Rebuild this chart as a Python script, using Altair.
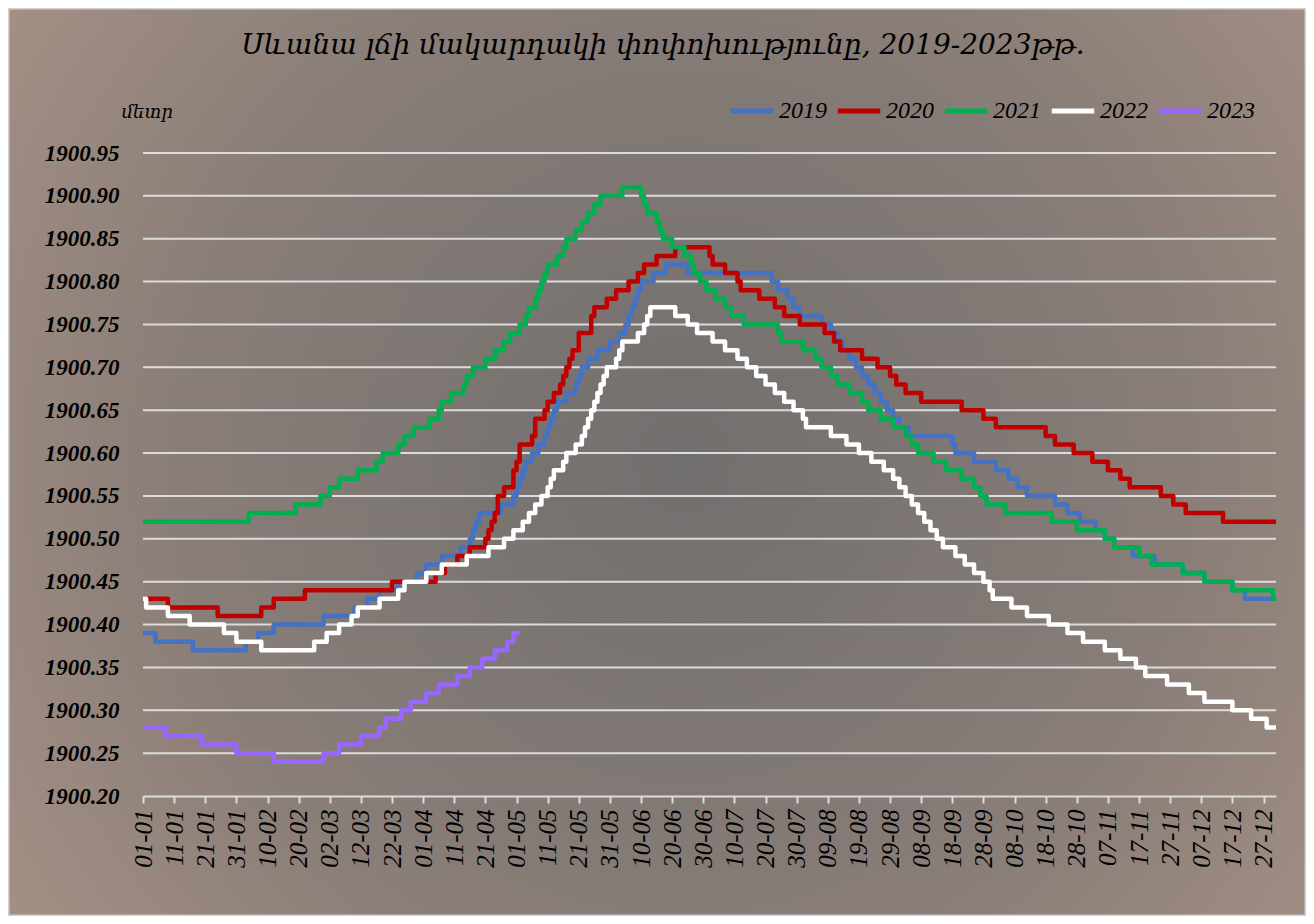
import altair as alt
import pandas as pd

# ---------------- data ----------------
years = ["2019", "2020", "2021", "2022", "2023"]
colors = ["#4472C4", "#C00000", "#00B050", "#FFFFFF", "#9966FF"]

# day of year where the level changes, and the level (m) from that day on
day_2019 = [1, 5, 17, 34, 38, 43, 59, 69, 73, 77, 83, 89, 92, 97, 103, 106, 107, 108, 109, 116,
            120, 121, 122, 123, 124, 126, 128, 130, 131, 132, 133, 134, 137, 140, 141, 142, 144,
            147, 151, 154, 156, 157, 158, 159, 160, 161, 165, 169, 176, 203, 205, 208, 210, 212,
            219, 222, 224, 226, 228, 230, 232, 234, 236, 238, 240, 242, 244, 247, 261, 262, 268,
            275, 279, 282, 285, 294, 298, 302, 307, 310, 313, 319, 326, 335, 342, 351, 355, 365]
lvl_2019 = [1900.39, 1900.38, 1900.37, 1900.38, 1900.39, 1900.40, 1900.41, 1900.42, 1900.43, 1900.44,
            1900.45, 1900.46, 1900.47, 1900.48, 1900.49, 1900.50, 1900.51, 1900.52, 1900.53, 1900.54,
            1900.55, 1900.56, 1900.57, 1900.58, 1900.59, 1900.60, 1900.61, 1900.62, 1900.63, 1900.64,
            1900.65, 1900.66, 1900.67, 1900.68, 1900.69, 1900.70, 1900.71, 1900.72, 1900.73, 1900.74,
            1900.75, 1900.76, 1900.77, 1900.78, 1900.79, 1900.80, 1900.81, 1900.82, 1900.81, 1900.80,
            1900.79, 1900.78, 1900.77, 1900.76, 1900.75, 1900.74, 1900.73, 1900.72, 1900.71, 1900.70,
            1900.69, 1900.68, 1900.67, 1900.66, 1900.65, 1900.64, 1900.63, 1900.62, 1900.61, 1900.60,
            1900.59, 1900.58, 1900.57, 1900.56, 1900.55, 1900.54, 1900.53, 1900.52, 1900.51, 1900.50,
            1900.49, 1900.48, 1900.47, 1900.46, 1900.45, 1900.44, 1900.43, 1900.43]

day_2020 = [1, 9, 25, 39, 43, 53, 81, 95, 98, 102, 106, 111, 112, 113, 114, 115, 117, 120, 121, 122,
            126, 127, 130, 131, 133, 135, 136, 137, 138, 139, 141, 145, 146, 150, 153, 157, 160, 162,
            166, 172, 183, 184, 188, 192, 193, 199, 204, 207, 212, 220, 223, 225, 232, 237, 241, 243,
            246, 251, 264, 271, 275, 291, 294, 300, 306, 311, 315, 318, 328, 332, 336, 348, 365]
lvl_2020 = [1900.43, 1900.42, 1900.41, 1900.42, 1900.43, 1900.44, 1900.45, 1900.46, 1900.47, 1900.48,
            1900.49, 1900.50, 1900.51, 1900.52, 1900.53, 1900.55, 1900.56, 1900.58, 1900.59, 1900.61,
            1900.62, 1900.64, 1900.65, 1900.66, 1900.67, 1900.68, 1900.69, 1900.70, 1900.71, 1900.72,
            1900.74, 1900.76, 1900.77, 1900.78, 1900.79, 1900.80, 1900.81, 1900.82, 1900.83, 1900.84,
            1900.83, 1900.82, 1900.81, 1900.80, 1900.79, 1900.78, 1900.77, 1900.76, 1900.75, 1900.74,
            1900.73, 1900.72, 1900.71, 1900.70, 1900.69, 1900.68, 1900.67, 1900.66, 1900.65, 1900.64,
            1900.63, 1900.62, 1900.61, 1900.60, 1900.59, 1900.58, 1900.57, 1900.56, 1900.55, 1900.54,
            1900.53, 1900.52, 1900.52]

day_2021 = [1, 35, 50, 58, 61, 64, 70, 76, 78, 83, 85, 88, 93, 96, 97, 100, 104, 105, 107, 111, 114,
            117, 119, 122, 124, 125, 127, 128, 129, 130, 131, 134, 136, 137, 140, 142, 144, 146, 148,
            155, 161, 162, 163, 166, 167, 168, 171, 175, 177, 178, 180, 182, 185, 188, 190, 194, 205,
            206, 213, 217, 219, 222, 224, 228, 232, 234, 238, 242, 246, 248, 250, 255, 259, 264, 268,
            270, 272, 278, 293, 301, 310, 313, 321, 325, 335, 342, 351, 364, 365]
lvl_2021 = [1900.52, 1900.53, 1900.54, 1900.55, 1900.56, 1900.57, 1900.58, 1900.59, 1900.60, 1900.61,
            1900.62, 1900.63, 1900.64, 1900.65, 1900.66, 1900.67, 1900.68, 1900.69, 1900.70, 1900.71,
            1900.72, 1900.73, 1900.74, 1900.75, 1900.76, 1900.77, 1900.78, 1900.79, 1900.80, 1900.81,
            1900.82, 1900.83, 1900.84, 1900.85, 1900.86, 1900.87, 1900.88, 1900.89, 1900.90, 1900.91,
            1900.90, 1900.89, 1900.88, 1900.87, 1900.86, 1900.85, 1900.84, 1900.83, 1900.82, 1900.81,
            1900.80, 1900.79, 1900.78, 1900.77, 1900.76, 1900.75, 1900.74, 1900.73, 1900.72, 1900.71,
            1900.70, 1900.69, 1900.68, 1900.67, 1900.66, 1900.65, 1900.64, 1900.63, 1900.62, 1900.61,
            1900.60, 1900.59, 1900.58, 1900.57, 1900.56, 1900.55, 1900.54, 1900.53, 1900.52, 1900.51,
            1900.50, 1900.49, 1900.48, 1900.47, 1900.46, 1900.45, 1900.44, 1900.43, 1900.43]

day_2022 = [1, 2, 9, 16, 27, 31, 39, 56, 60, 64, 68, 70, 77, 83, 85, 92, 97, 105, 112, 117, 120, 123,
            125, 127, 129, 131, 132, 133, 136, 137, 140, 142, 143, 144, 145, 146, 147, 148, 149, 150,
            153, 154, 155, 160, 162, 163, 164, 172, 176, 179, 184, 188, 192, 195, 198, 201, 204, 207,
            210, 213, 214, 222, 227, 231, 235, 239, 242, 244, 246, 248, 250, 252, 254, 256, 258, 262,
            265, 268, 271, 273, 274, 280, 285, 292, 298, 303, 310, 315, 320, 323, 330, 337, 342, 351,
            357, 362, 365]
lvl_2022 = [1900.43, 1900.42, 1900.41, 1900.40, 1900.39, 1900.38, 1900.37, 1900.38, 1900.39, 1900.40,
            1900.41, 1900.42, 1900.43, 1900.44, 1900.45, 1900.46, 1900.47, 1900.48, 1900.49, 1900.50,
            1900.51, 1900.52, 1900.53, 1900.54, 1900.55, 1900.56, 1900.57, 1900.58, 1900.59, 1900.60,
            1900.61, 1900.62, 1900.63, 1900.64, 1900.65, 1900.66, 1900.67, 1900.68, 1900.69, 1900.70,
            1900.71, 1900.72, 1900.73, 1900.74, 1900.75, 1900.76, 1900.77, 1900.76, 1900.75, 1900.74,
            1900.73, 1900.72, 1900.71, 1900.70, 1900.69, 1900.68, 1900.67, 1900.66, 1900.65, 1900.64,
            1900.63, 1900.62, 1900.61, 1900.60, 1900.59, 1900.58, 1900.57, 1900.56, 1900.55, 1900.54,
            1900.53, 1900.52, 1900.51, 1900.50, 1900.49, 1900.48, 1900.47, 1900.46, 1900.45, 1900.44,
            1900.43, 1900.42, 1900.41, 1900.40, 1900.39, 1900.38, 1900.37, 1900.36, 1900.35, 1900.34,
            1900.33, 1900.32, 1900.31, 1900.30, 1900.29, 1900.28, 1900.28]

day_2023 = [1, 8, 20, 31, 43, 59, 64, 71, 77, 79, 84, 87, 92, 96, 102, 106, 110, 114, 118, 120, 122]
lvl_2023 = [1900.28, 1900.27, 1900.26, 1900.25, 1900.24, 1900.25, 1900.26, 1900.27, 1900.28, 1900.29,
            1900.30, 1900.31, 1900.32, 1900.33, 1900.34, 1900.35, 1900.36, 1900.37, 1900.38, 1900.39,
            1900.39]

tick_labels = ["01-01", "11-01", "21-01", "31-01", "10-02", "20-02", "02-03", "12-03", "22-03",
               "01-04", "11-04", "21-04", "01-05", "11-05", "21-05", "31-05", "10-06", "20-06",
               "30-06", "10-07", "20-07", "30-07", "09-08", "19-08", "29-08", "08-09", "18-09",
               "28-09", "08-10", "18-10", "28-10", "07-11", "17-11", "27-11", "07-12", "17-12",
               "27-12"]
tick_days = [1 + 10 * i for i in range(len(tick_labels))]
y_ticks = [1900.20, 1900.25, 1900.30, 1900.35, 1900.40, 1900.45, 1900.50, 1900.55,
           1900.60, 1900.65, 1900.70, 1900.75, 1900.80, 1900.85, 1900.90, 1900.95]

title_text = "Սևանա լճի մակարդակի փոփոխությունը, 2019-2023թթ."
unit_text = "մետր"

# ---------------- build tables ----------------
rows = []
series = [(years[0], day_2019, lvl_2019), (years[1], day_2020, lvl_2020),
          (years[2], day_2021, lvl_2021), (years[3], day_2022, lvl_2022),
          (years[4], day_2023, lvl_2023)]
for s_idx, (yr, dd, ll) in enumerate(series):
    for i, (d, v) in enumerate(zip(dd, ll)):
        rows.append({"year": yr, "day": d, "level": v, "ord": i, "sidx": s_idx})
df = pd.DataFrame(rows)
grid_df = pd.DataFrame({"level": y_ticks[1:]})

W, H = 1133, 643
PAD_L, PAD_T, PAD_R, PAD_B = 135, 145, 30, 120

xscale = alt.Scale(domain=[1, 365], nice=False, zero=False)
yscale = alt.Scale(domain=[1900.20, 1900.95], nice=False, zero=False)

label_js = "[" + ",".join("'" + t + "'" for t in tick_labels) + "]"

y_axis = alt.Axis(values=y_ticks, format=".2f", labelFont="Liberation Serif",
                  labelFontStyle="italic", labelFontWeight="bold", labelFontSize=23,
                  labelColor="#000000", labelPadding=24, domain=False, ticks=False,
                  grid=False, zindex=2, title=unit_text, titleAngle=0,
                  titleFont="DejaVu Serif", titleFontStyle="italic",
                  titleFontWeight="normal", titleFontSize=18, titleColor="#000000",
                  titleAlign="left", titleBaseline="middle", titleX=-22, titleY=-41)

# background gradient (decoration)
bg = alt.Chart(pd.DataFrame({"a": [0]})).mark_rect(
    fill={"gradient": "radial", "x1": 0.52, "y1": 0.5, "x2": 0.52, "y2": 0.5, "r1": 0, "r2": 0.72,
          "stops": [{"offset": 0, "color": "#716f6e"}, {"offset": 0.55, "color": "#8a7e78"},
                    {"offset": 1, "color": "#ad9789"}]},
    stroke="#d0d0d0", strokeWidth=3
).encode(
    x=alt.value(-PAD_L), x2=alt.value(W + PAD_R),
    y=alt.value(-PAD_T), y2=alt.value(H + PAD_B)
)

title = alt.Chart(pd.DataFrame({"t": [title_text]})).mark_text(
    font="DejaVu Serif", fontStyle="italic", fontSize=28, color="#000000",
    align="center", baseline="middle"
).encode(text="t:N", x=alt.value(520), y=alt.value(-107))

grid = alt.Chart(grid_df).mark_rule(color="#dcdcdc", strokeWidth=2).encode(
    y=alt.Y("level:Q", scale=yscale, axis=y_axis)
)

lines = alt.Chart(df).mark_line(interpolate="step-after", strokeWidth=4.5, strokeJoin="round").encode(
    x=alt.X("day:Q", scale=xscale,
            axis=alt.Axis(values=tick_days, labelExpr=label_js + "[(datum.value - 1) / 10]",
                          labelAngle=270, labelFont="Liberation Serif", labelFontStyle="italic",
                          labelFontSize=25, labelColor="#000000", labelPadding=6,
                          domainColor="#dcdcdc", domainWidth=2, tickColor="#dcdcdc",
                          tickWidth=2, tickSize=7, grid=False, title=None, zindex=2,
                          labelOverlap=False)),
    y=alt.Y("level:Q", scale=yscale, axis=y_axis),
    color=alt.Color("year:N", scale=alt.Scale(domain=years, range=colors),
                    legend=alt.Legend(title=None, orient="none", direction="horizontal",
                                      legendX=585, legendY=-66, symbolType="stroke",
                                      symbolStrokeWidth=5, symbolSize=1800,
                                      labelFont="Liberation Serif", labelFontStyle="italic",
                                      labelFontSize=24, labelColor="#000000", labelOffset=3,
                                      columnPadding=0, zindex=2)),
    order=alt.Order("ord:Q"),
    detail="sidx:N",
)

chart = alt.layer(bg, title, grid, lines).properties(
    width=W, height=H,
    autosize=alt.AutoSizeParams(type="none"),
    padding={"left": PAD_L, "top": PAD_T, "right": PAD_R, "bottom": PAD_B},
).configure(background="#ad9789").configure_view(stroke=None)

chart.save("out.html", embed_options={"renderer": "svg", "actions": False})
